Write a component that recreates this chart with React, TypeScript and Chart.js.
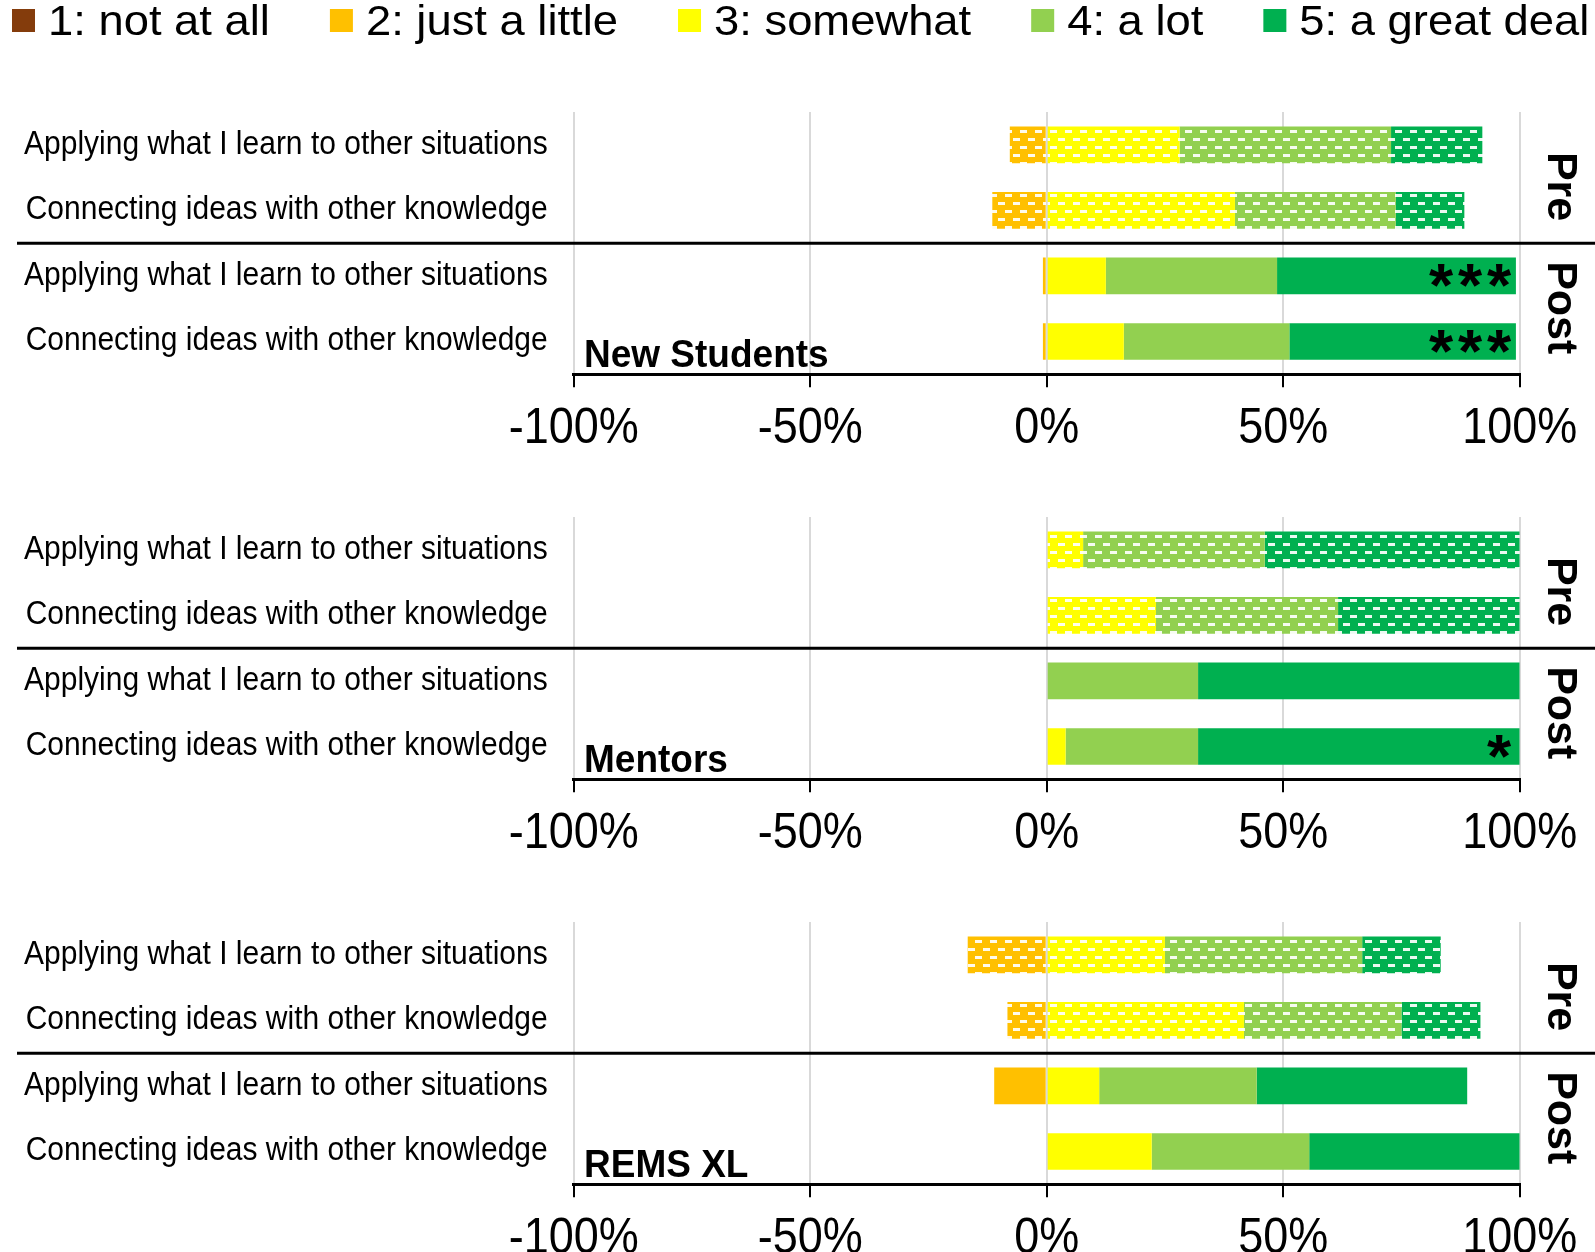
import React, { useEffect, useRef } from "react";
import { Chart, registerables } from "chart.js";

Chart.register(...registerables);

const FONT = "'Liberation Sans', Arial, Helvetica, sans-serif";

// Row order in every panel: Pre-Applying, Pre-Connecting, Post-Applying, Post-Connecting
const categories = [
  "Applying what I learn to other situations",
  "Connecting ideas with other knowledge",
  "Applying what I learn to other situations",
  "Connecting ideas with other knowledge",
];
const phaseLabels = ["Pre", "Post"];
const levelLabels = ["1: not at all", "2: just a little", "3: somewhat", "4: a lot", "5: a great deal"];
const levelColors = ["#843C0C", "#FFC000", "#FFFF00", "#92D050", "#00B050"];
const xTickValues = [-100, -50, 0, 50, 100];
const panelTitles = ["New Students", "Mentors", "REMS XL"];

// New Students (percent; levels 1-2 drawn to the left of zero)
const newStudentsL1 = [0, 0, 0, 0];
const newStudentsL2 = [-7.8, -11.5, -0.8, -0.8];
const newStudentsL3 = [28.1, 39.8, 12.5, 16.3];
const newStudentsL4 = [44.7, 34.0, 36.2, 35.0];
const newStudentsL5 = [19.3, 14.5, 50.5, 47.9];
const newStudentsSig = ["", "", "***", "***"];

// Mentors
const mentorsL1 = [0, 0, 0, 0];
const mentorsL2 = [0, 0, 0, 0];
const mentorsL3 = [7.7, 23.1, 0, 4.0];
const mentorsL4 = [38.4, 38.5, 32.0, 28.0];
const mentorsL5 = [53.9, 38.4, 68.0, 68.0];
const mentorsSig = ["", "", "", "*"];

// REMS XL
const remsL1 = [0, 0, 0, 0];
const remsL2 = [-16.7, -8.3, -11.1, 0];
const remsL3 = [25.0, 41.7, 11.1, 22.2];
const remsL4 = [41.7, 33.3, 33.3, 33.3];
const remsL5 = [16.6, 16.7, 44.5, 44.5];
const remsSig = ["", "", "", ""];

const panels = [
  { title: panelTitles[0], levels: [newStudentsL1, newStudentsL2, newStudentsL3, newStudentsL4, newStudentsL5], sig: newStudentsSig },
  { title: panelTitles[1], levels: [mentorsL1, mentorsL2, mentorsL3, mentorsL4, mentorsL5], sig: mentorsSig },
  { title: panelTitles[2], levels: [remsL1, remsL2, remsL3, remsL4, remsL5], sig: remsSig },
];

function makePattern(color: string): CanvasPattern | string {
  const c = document.createElement("canvas");
  c.width = 15;
  c.height = 16;
  const g = c.getContext("2d");
  if (!g) return color;
  g.fillStyle = color;
  g.fillRect(0, 0, 15, 16);
  g.fillStyle = "rgba(255,255,255,0.92)";
  g.fillRect(0, 2, 7, 3);
  g.fillRect(8, 10, 7, 3);
  return g.createPattern(c, "repeat") || color;
}

function drawText(
  ctx: CanvasRenderingContext2D,
  text: string,
  x: number,
  y: number,
  font: string,
  sx: number,
  sy: number,
  align: CanvasTextAlign,
  baseline: CanvasTextBaseline
) {
  ctx.save();
  ctx.font = font;
  ctx.textAlign = align;
  ctx.textBaseline = baseline;
  ctx.translate(x, y);
  ctx.scale(sx, sy);
  ctx.fillText(text, 0, 0);
  ctx.restore();
}

const PANEL_STEP = 404.9;
const CANVAS_H = 460;

function Panel({ top, title, levels, sig, showLegend }: any) {
  const ref = useRef<HTMLCanvasElement>(null);
  useEffect(() => {
    const canvas = ref.current;
    if (!canvas) return;
    const patterns = levelColors.map(makePattern);
    const order = [1, 0, 2, 3, 4];
    const datasets = order.map((li) => ({
      label: levelLabels[li],
      data: levels[li],
      backgroundColor: categories.map((_, r) => (r < 2 ? patterns[li] : levelColors[li])),
      borderWidth: 0,
      barPercentage: 0.56,
      categoryPercentage: 1,
      stack: "s",
    }));

    const decor = {
      id: "decor",
      afterDraw(chart: any) {
        const ctx = chart.ctx;
        const xs = chart.scales.x;
        const ys = chart.scales.y;
        const area = chart.chartArea;
        const y0 = ys.getPixelForValue(0);
        const y1 = ys.getPixelForValue(1);
        const y2 = ys.getPixelForValue(2);
        const y3 = ys.getPixelForValue(3);
        ctx.save();
        // separator between Pre and Post
        ctx.strokeStyle = "#000";
        ctx.lineWidth = 3;
        ctx.beginPath();
        ctx.moveTo(17, (y1 + y2) / 2);
        ctx.lineTo(chart.width, (y1 + y2) / 2);
        ctx.stroke();

        ctx.fillStyle = "#000";

        // category labels (y axis)
        categories.forEach((lab, r) => {
          drawText(ctx, lab, area.left - 26, ys.getPixelForValue(r), `30px ${FONT}`, 1, 1.08, "right", "middle");
        });

        // x tick labels
        xTickValues.forEach((v) => {
          drawText(ctx, v + "%", xs.getPixelForValue(v), area.bottom + 68.4, `45px ${FONT}`, 1, 1.1, "center", "alphabetic");
        });

        // panel title
        drawText(ctx, title, 584, area.bottom - 7, `bold 37px ${FONT}`, 1, 1.07, "left", "alphabetic");

        // Pre / Post rotated labels
        ctx.font = `bold 43px ${FONT}`;
        ctx.textBaseline = "alphabetic";
        const centers = [(y0 + y1) / 2 + 9, (y2 + y3) / 2 - 1];
        phaseLabels.forEach((t, i) => {
          ctx.save();
          ctx.translate(xs.right + 28.3, centers[i]);
          ctx.rotate(Math.PI / 2);
          ctx.textAlign = "center";
          ctx.fillText(t, 0, 0);
          ctx.restore();
        });

        // significance asterisks
        ctx.font = `bold 62px ${FONT}`;
        ctx.textAlign = "center";
        const m = ctx.measureText("*");
        const inkMid = (m.actualBoundingBoxAscent - m.actualBoundingBoxDescent) / 2;
        sig.forEach((s: string, r: number) => {
          const cy = ys.getPixelForValue(r);
          for (let k = 0; k < s.length; k++) {
            const cx = xs.getPixelForValue(100) - 9.7 - 11 - k * 29;
            ctx.fillText("*", cx, cy + inkMid);
          }
        });

        // legend
        if (showLegend) {
          const lf = `42px ${FONT}`;
          const lsx = 1.08;
          ctx.font = lf;
          let x = 12;
          levelLabels.forEach((lab, i) => {
            ctx.fillStyle = levelColors[i];
            ctx.fillRect(x, 9, 23, 23);
            const tx = x + 36;
            ctx.fillStyle = "#000";
            drawText(ctx, lab, tx, 35, lf, lsx, 1, "left", "alphabetic");
            ctx.font = lf;
            x = tx + ctx.measureText(lab).width * lsx + 60;
          });
        }
        ctx.restore();
      },
    };

    const chart = new Chart(canvas, {
      type: "bar",
      data: { labels: categories, datasets: datasets as any },
      options: {
        indexAxis: "y",
        responsive: false,
        animation: false,
        devicePixelRatio: 1,
        layout: { padding: { top: 112, right: 75.3, left: 0, bottom: 0 } },
        plugins: { legend: { display: false }, tooltip: { enabled: false } },
        scales: {
          x: {
            stacked: true,
            min: -100,
            max: 100,
            afterBuildTicks: (s: any) => {
              s.ticks = xTickValues.map((v) => ({ value: v }));
            },
            afterFit: (s: any) => {
              s.height = 85.7;
            },
            grid: {
              color: "#d9d9d9",
              lineWidth: 2,
              tickColor: "#000",
              tickWidth: 2,
              tickLength: 13,
              drawTicks: true,
            },
            border: { display: true, color: "#000", width: 3 },
            ticks: { display: false, autoSkip: false },
          },
          y: {
            stacked: true,
            afterFit: (s: any) => {
              s.width = 573.7;
            },
            grid: { display: false, drawTicks: false },
            border: { display: false },
            ticks: { display: false, autoSkip: false },
          },
        },
      } as any,
      plugins: [decor],
    });
    return () => chart.destroy();
  }, []);
  return (
    <canvas
      ref={ref}
      width={1595}
      height={CANVAS_H}
      style={{ position: "absolute", left: 0, top, width: 1595, height: CANVAS_H }}
    />
  );
}

export default function App() {
  return (
    <div
      style={{
        position: "absolute",
        left: 0,
        top: 0,
        width: 1595,
        height: 1252,
        overflow: "hidden",
        background: "#fff",
      }}
    >
      {panels.map((p, i) => (
        <Panel
          key={i}
          top={i * PANEL_STEP}
          title={p.title}
          levels={p.levels}
          sig={p.sig}
          showLegend={i === 0}
        />
      ))}
    </div>
  );
}
